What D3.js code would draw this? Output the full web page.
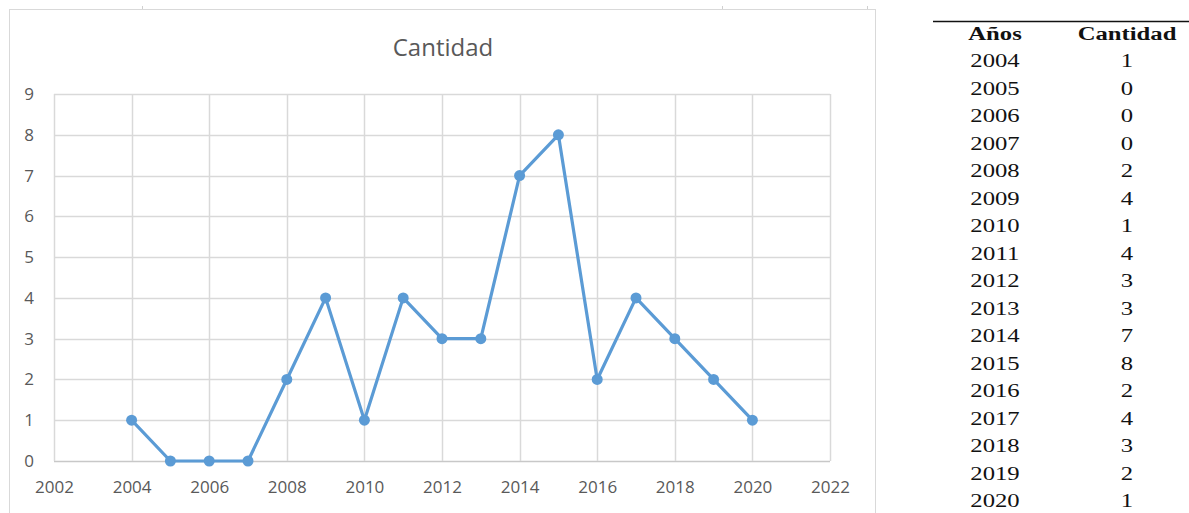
<!DOCTYPE html>
<html>
<head>
<meta charset="utf-8">
<script src="https://cdn.jsdelivr.net/npm/d3@7"></script>
<style>
  html, body { margin: 0; padding: 0; background: #fff; }
  svg { display: block; }
</style>
</head>
<body>
<svg id="chart" width="1189" height="513"></svg>
<script>
const years = [2004, 2005, 2006, 2007, 2008, 2009, 2010, 2011, 2012, 2013, 2014, 2015, 2016, 2017, 2018, 2019, 2020];
const cantidad = [1, 0, 0, 0, 2, 4, 1, 4, 3, 3, 7, 8, 2, 4, 3, 2, 1];
const xTicks = [2002, 2004, 2006, 2008, 2010, 2012, 2014, 2016, 2018, 2020, 2022];
const yTicks = [0, 1, 2, 3, 4, 5, 6, 7, 8, 9];
const title = 'Cantidad';
const tableHeader = ['Años', 'Cantidad'];

const main = () => {
  const svg = d3.select('#chart');
  const plot = { left: 54, top: 94, right: 830, bottom: 461 };

  // chart frame (spreadsheet chart box, cut at the bottom)
  svg.append('rect')
    .attr('x', 9.5).attr('y', 9.5)
    .attr('width', 866).attr('height', 520)
    .attr('fill', 'none').attr('stroke', '#d9d9d9');
  [142, 722, 867].forEach((x) => {
    svg.append('line')
      .attr('x1', x + 0.5).attr('x2', x + 0.5).attr('y1', 6).attr('y2', 9)
      .attr('stroke', '#d0d0d0');
  });

  const x = d3.scaleLinear().domain([2002, 2022]).range([plot.left, plot.right]);
  const y = d3.scaleLinear().domain([0, 9]).range([plot.bottom, plot.top]);

  // grid
  const grid = svg.append('g').attr('class', 'grid');
  grid.selectAll('line.h')
    .data(yTicks)
    .enter()
    .append('line')
    .attr('class', 'h')
    .attr('x1', plot.left).attr('x2', plot.right)
    .attr('y1', (d) => Math.round(y(d)) + 0.5)
    .attr('y2', (d) => Math.round(y(d)) + 0.5)
    .attr('stroke', (d) => (d === 0 ? '#c8c8c8' : '#d9d9d9'))
    .attr('stroke-width', 1.5);
  grid.selectAll('line.v')
    .data(xTicks)
    .enter()
    .append('line')
    .attr('class', 'v')
    .attr('y1', plot.top).attr('y2', plot.bottom)
    .attr('x1', (d) => Math.round(x(d)) + 0.5)
    .attr('x2', (d) => Math.round(x(d)) + 0.5)
    .attr('stroke', '#d9d9d9')
    .attr('stroke-width', 1.5);

  // axes labels
  const xAxis = svg.append('g')
    .attr('transform', `translate(0, ${plot.bottom + 17})`)
    .call(d3.axisBottom(x).tickValues(xTicks).tickFormat(d3.format('d')).tickSize(0));
  const yAxis = svg.append('g')
    .attr('transform', `translate(${plot.left - 17}, 0)`)
    .call(d3.axisLeft(y).tickValues(yTicks).tickSize(0));
  [xAxis, yAxis].forEach((a) => {
    a.select('.domain').remove();
    a.selectAll('text')
      .attr('fill', '#595959')
      .style('font-family', '"Open Sans", sans-serif')
      .style('font-size', '17px');
  });

  svg.append('text')
    .attr('x', 443).attr('y', 56)
    .attr('text-anchor', 'middle')
    .attr('fill', '#595959')
    .style('font-family', '"Open Sans", sans-serif')
    .style('font-size', '24px')
    .text(title);

  // series
  const points = years.map((yr, i) => [yr, cantidad[i]]);
  const line = d3.line().x((d) => x(d[0])).y((d) => y(d[1]));
  svg.append('path')
    .datum(points)
    .attr('d', line)
    .attr('fill', 'none')
    .attr('stroke', '#5b9bd5')
    .attr('stroke-width', 3.2)
    .attr('stroke-linejoin', 'round');
  svg.selectAll('circle.pt')
    .data(points)
    .enter()
    .append('circle')
    .attr('class', 'pt')
    .attr('cx', (d) => x(d[0]))
    .attr('cy', (d) => y(d[1]))
    .attr('r', 5.5)
    .attr('fill', '#5b9bd5');

  // table on the right
  const table = svg.append('g').style('font-family', '"Liberation Serif", "Times New Roman", serif');
  table.append('line')
    .attr('x1', 933).attr('x2', 1189).attr('y1', 21.5).attr('y2', 21.5)
    .attr('stroke', '#111').attr('stroke-width', 1.5);
  const colX = [995, 1127];
  const rowY = d3.scaleLinear().domain([0, years.length - 1]).range([67, 507]);
  const addCell = (cx, cy, txt, bold) => {
    table.append('text')
      .attr('transform', `translate(${cx}, ${cy}) scale(1.3, 1)`)
      .attr('text-anchor', 'middle')
      .attr('fill', '#111')
      .style('font-size', '19px')
      .style('font-weight', bold ? 'bold' : 'normal')
      .text(txt);
  };
  addCell(colX[0], 40, tableHeader[0], true);
  addCell(colX[1], 40, tableHeader[1], true);
  years.forEach((yr, i) => {
    addCell(colX[0], rowY(i), yr, false);
    addCell(colX[1], rowY(i), cantidad[i], false);
  });
};
main();
</script>
</body>
</html>
